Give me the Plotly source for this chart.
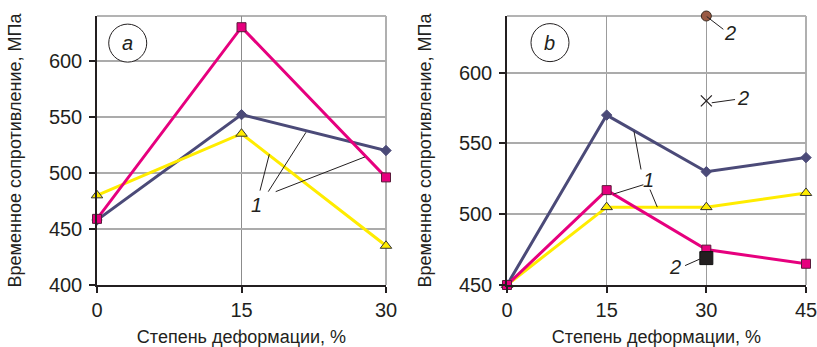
import plotly.graph_objects as go

# ---- data ----
x_a = [0, 15, 30]
a_pink = [459, 630, 496]
a_purple = [458, 552, 520]
a_yellow = [480, 535, 435]

x_b = [0, 15, 30, 45]
b_purple = [450, 570, 530, 540]
b_pink = [450, 517, 475, 465]
b_yellow = [450, 505, 505, 515]

# separate points "2" on panel b (x = 30)
p2_x = [30]
p2_circle = [640]
p2_cross = [580]
p2_square = [469]

yticks_a = [400, 450, 500, 550, 600]
yticks_b = [450, 500, 550, 600]
xticks_a = [0, 15, 30]
xticks_b = [0, 15, 30, 45]

PINK = "#e6007e"
PURPLE = "#4b4a78"
YELLOW = "#ffec00"
FONT = "Liberation Sans, Arial, sans-serif"
TXT = "#231f20"

fig = go.Figure()

def add_series(x, y, color, symbol, size, mline, xa, ya):
    fig.add_trace(go.Scatter(
        x=x, y=y, mode="lines+markers", xaxis=xa, yaxis=ya,
        line=dict(color=color, width=3),
        marker=dict(symbol=symbol, size=size, color=color,
                    line=dict(color=mline, width=1)),
        cliponaxis=False, showlegend=False, hoverinfo="skip"))

# panel a
add_series(x_a, a_purple, PURPLE, "diamond", 8, PURPLE, "x", "y")
add_series(x_a, a_yellow, YELLOW, "triangle-up", 10, "#333333", "x", "y")
add_series(x_a, a_pink, PINK, "square", 9, "#5a1a3a", "x", "y")
# panel b
add_series(x_b, b_purple, PURPLE, "diamond", 8, PURPLE, "x2", "y2")
add_series(x_b, b_yellow, YELLOW, "triangle-up", 10, "#333333", "x2", "y2")
add_series(x_b, b_pink, PINK, "square", 9, "#5a1a3a", "x2", "y2")

fig.add_trace(go.Scatter(x=p2_x, y=p2_circle, mode="markers", xaxis="x2", yaxis="y2",
                         marker=dict(symbol="circle", size=10, color="#9a5a44",
                                     line=dict(color="#3a2a20", width=1)),
                         cliponaxis=False, showlegend=False, hoverinfo="skip"))
fig.add_trace(go.Scatter(x=p2_x, y=p2_cross, mode="markers", xaxis="x2", yaxis="y2",
                         marker=dict(symbol="x-thin", size=11,
                                     line=dict(color="#231f20", width=1.2)),
                         cliponaxis=False, showlegend=False, hoverinfo="skip"))
fig.add_trace(go.Scatter(x=p2_x, y=p2_square, mode="markers", xaxis="x2", yaxis="y2",
                         marker=dict(symbol="square", size=13, color="#231f20",
                                     line=dict(color="#111111", width=1)),
                         cliponaxis=False, showlegend=False, hoverinfo="skip"))

W, H = 817, 347
dom_y = [(H - 285) / H, (H - 16) / H]

axis_common = dict(
    showline=True, linecolor="#231f20", linewidth=1.5,
    ticks="outside", ticklen=6, tickwidth=1.5, tickcolor="#231f20",
    tickfont=dict(family=FONT, size=20, color=TXT),
    zeroline=False, showgrid=True, automargin=False,
)

ytitle = dict(text="Временное сопротивление, МПа",
              font=dict(family=FONT, size=18, color=TXT), standoff=23)
xtitle = dict(text="Степень деформации, %",
              font=dict(family=FONT, size=18, color=TXT), standoff=15)

fig.update_layout(
    width=W, height=H, margin=dict(l=0, r=0, t=0, b=0),
    paper_bgcolor="white", plot_bgcolor="white",
    xaxis=dict(**axis_common, domain=[97 / W, 386 / W], range=[0, 30],
               tickvals=xticks_a, gridcolor="#8c8c8c", gridwidth=1,
               anchor="y", title=xtitle),
    yaxis=dict(**axis_common, domain=dom_y, range=[400, 640],
               tickvals=yticks_a, gridcolor="#ababab", gridwidth=1.5,
               ticklabelstandoff=3, anchor="x", title=ytitle),
    xaxis2=dict(**axis_common, domain=[507 / W, 806 / W], range=[0, 45],
                tickvals=xticks_b, gridcolor="#9c9c9c", gridwidth=1.2,
                ticklabeloverflow="allow", anchor="y2", title=xtitle),
    yaxis2=dict(**axis_common, domain=dom_y, range=[450, 640],
                tickvals=yticks_b, gridcolor="#ababab", gridwidth=1.5,
                ticklabelstandoff=3, anchor="x2", title=ytitle),
)

shapes = []
# top and right borders
for xr, yr in [("x", "y"), ("x2", "y2")]:
    shapes.append(dict(type="line", xref=f"{xr} domain", yref=f"{yr} domain",
                       x0=0, x1=1, y0=1, y1=1, line=dict(color="#9a9a9a", width=1.5), layer="below"))
    shapes.append(dict(type="line", xref=f"{xr} domain", yref=f"{yr} domain",
                       x0=1, x1=1, y0=0, y1=1, line=dict(color="#b0b0b0", width=2), layer="below"))

# circled panel labels
for xr, yr, cx, cy in [("x", "y", 3.19, 615.8), ("x2", "y2", 6.47, 621.2)]:
    shapes.append(dict(type="circle", xref=xr, yref=yr, xsizemode="pixel", ysizemode="pixel",
                       xanchor=cx, yanchor=cy, x0=-19, x1=19, y0=-19, y1=19,
                       line=dict(color="#231f20", width=1), fillcolor="white"))

# leader lines panel a
lead_a = [((16.92, 484.2), (17.89, 516.7)),
          ((17.78, 483.3), (21.70, 536.3)),
          ((18.55, 483.3), (27.82, 514.3))]
for (x0, y0), (x1, y1) in lead_a:
    shapes.append(dict(type="line", xref="x", yref="y", x0=x0, y0=y0, x1=x1, y1=y1,
                       line=dict(color="#231f20", width=1)))
# leader lines panel b
lead_b = [((20.52, 520.8), (16.0, 514.2)),
          ((19.11, 558.6), (20.17, 531.6)),
          ((21.52, 517.4), (22.62, 505.0)),
          ((30.06, 639.6), (32.56, 630.6)),
          ((30.81, 578.7), (34.32, 581.0)),
          ((29.3, 468.9), (26.8, 463.7))]
for (x0, y0), (x1, y1) in lead_b:
    shapes.append(dict(type="line", xref="x2", yref="y2", x0=x0, y0=y0, x1=x1, y1=y1,
                       line=dict(color="#231f20", width=1)))
fig.update_layout(shapes=shapes)

ann_font = dict(family=FONT, size=20, color=TXT)
anns = [
    dict(x=3.19, y=615.8, xref="x", yref="y", text="<i>a</i>", showarrow=False, font=ann_font),
    dict(x=6.47, y=621.2, xref="x2", yref="y2", text="<i>b</i>", showarrow=False, font=ann_font),
    dict(x=16.6, y=471.4, xref="x", yref="y", text="<i>1</i>", showarrow=False, font=ann_font),
    dict(x=21.27, y=524.4, xref="x2", yref="y2", text="<i>1</i>", showarrow=False, font=ann_font),
    dict(x=33.56, y=628.2, xref="x2", yref="y2", text="<i>2</i>", showarrow=False, font=ann_font),
    dict(x=35.57, y=582.2, xref="x2", yref="y2", text="<i>2</i>", showarrow=False, font=ann_font),
    dict(x=25.3, y=463.0, xref="x2", yref="y2", text="<i>2</i>", showarrow=False, font=ann_font),
]
fig.update_layout(annotations=anns)

fig.write_html("out.html", config={"displayModeBar": False},
               post_script="document.body.style.margin='0px';")
